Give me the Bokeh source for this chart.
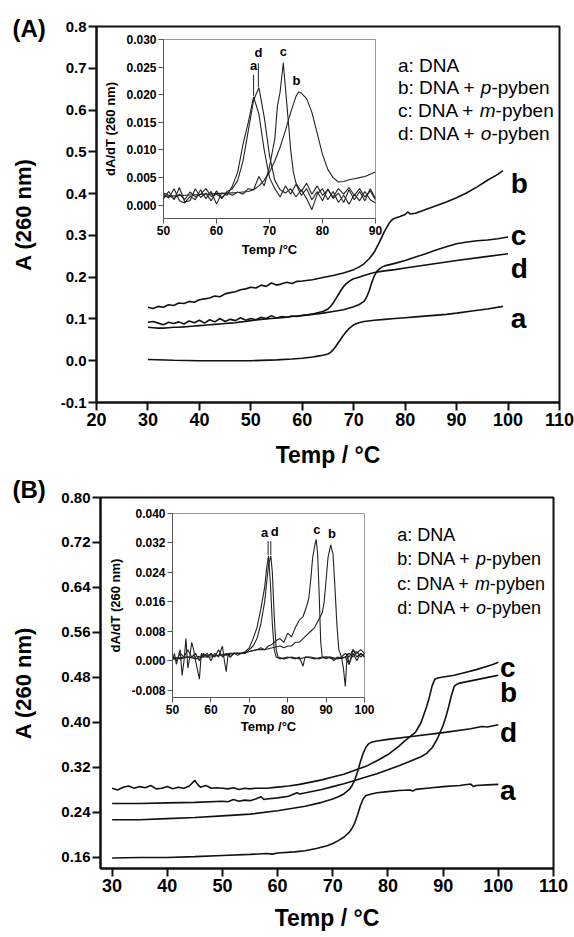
from bokeh.plotting import figure
from bokeh.models import GridBox, FixedTicker, PrintfTickFormatter, Range1d
from bokeh.layouts import column
from bokeh.core.properties import value
from bokeh.embed import file_html
from bokeh.resources import INLINE

FONT = "Liberation Sans"

# ---------------- Panel A : main melting curves ----------------
A_a_T = [30, 35, 40, 45, 50, 55, 58, 60, 62, 63, 64, 65, 65.5, 66, 66.5, 67, 67.5, 68, 68.5, 69, 69.5, 70, 71, 72, 74, 76, 78, 80, 82, 85, 88, 90, 93, 96, 99]
A_a_V = [0.003, 0.001, 0.000, 0.000, 0.000, 0.002, 0.004, 0.006, 0.009, 0.011, 0.013, 0.016, 0.020, 0.026, 0.034, 0.043, 0.052, 0.061, 0.069, 0.076, 0.081, 0.086, 0.091, 0.094, 0.097, 0.099, 0.101, 0.103, 0.105, 0.108, 0.111, 0.114, 0.119, 0.124, 0.130]

A_b_T = [30, 31, 32, 33, 34, 35, 36, 37, 38, 39, 40, 41, 42, 43, 44, 45, 46, 47, 48, 49, 50, 51, 52, 53, 54, 55, 56, 57, 58, 59, 60, 62, 64, 66, 68, 70, 71, 72, 73, 74, 75, 76, 77, 77.5, 78, 79, 80, 80.5, 81, 82, 84, 86, 88, 90, 92, 94, 96, 98, 99]
A_b_V = [0.128, 0.125, 0.130, 0.128, 0.134, 0.132, 0.138, 0.137, 0.142, 0.140, 0.146, 0.148, 0.150, 0.155, 0.153, 0.160, 0.163, 0.165, 0.170, 0.172, 0.176, 0.174, 0.181, 0.178, 0.186, 0.181, 0.184, 0.188, 0.185, 0.190, 0.191, 0.194, 0.199, 0.204, 0.210, 0.218, 0.224, 0.232, 0.244, 0.260, 0.284, 0.310, 0.331, 0.338, 0.341, 0.345, 0.350, 0.356, 0.351, 0.353, 0.362, 0.371, 0.380, 0.390, 0.402, 0.416, 0.432, 0.446, 0.455]

A_c_T = [30, 31, 32, 33, 34, 35, 36, 37, 38, 39, 40, 41, 42, 43, 44, 45, 46, 47, 48, 49, 50, 52, 54, 56, 58, 60, 62, 64, 66, 68, 70, 71, 72, 72.5, 73, 73.5, 74, 74.5, 75, 75.5, 76, 77, 78, 80, 82, 84, 86, 88, 90, 92, 94, 96, 98, 100]
A_c_V = [0.080, 0.079, 0.078, 0.078, 0.079, 0.080, 0.080, 0.081, 0.082, 0.083, 0.084, 0.085, 0.086, 0.087, 0.088, 0.089, 0.090, 0.091, 0.093, 0.094, 0.096, 0.099, 0.101, 0.103, 0.106, 0.108, 0.111, 0.114, 0.118, 0.122, 0.129, 0.134, 0.142, 0.152, 0.167, 0.187, 0.203, 0.214, 0.220, 0.224, 0.227, 0.230, 0.233, 0.240, 0.248, 0.256, 0.265, 0.273, 0.280, 0.284, 0.287, 0.289, 0.292, 0.296]

A_d_T = [30, 31, 32, 33, 34, 35, 36, 37, 38, 39, 40, 41, 42, 43, 44, 45, 46, 47, 48, 49, 50, 51, 52, 53, 54, 55, 56, 57, 58, 59, 60, 61, 62, 63, 64, 65, 65.5, 66, 66.5, 67, 67.5, 68, 68.5, 69, 69.5, 70, 71, 72, 74, 76, 78, 80, 85, 90, 95, 100]
A_d_V = [0.092, 0.094, 0.090, 0.086, 0.092, 0.089, 0.093, 0.088, 0.095, 0.091, 0.097, 0.090, 0.098, 0.093, 0.101, 0.094, 0.099, 0.096, 0.103, 0.097, 0.101, 0.098, 0.104, 0.101, 0.108, 0.102, 0.106, 0.104, 0.107, 0.106, 0.109, 0.110, 0.112, 0.115, 0.118, 0.124, 0.130, 0.138, 0.148, 0.158, 0.168, 0.177, 0.184, 0.189, 0.193, 0.196, 0.200, 0.204, 0.211, 0.215, 0.218, 0.222, 0.231, 0.240, 0.248, 0.256]

# ---------------- Panel A : inset dA/dT ----------------
IA_a_T = [50, 51, 52, 53, 54, 55, 56, 57, 58, 59, 60, 61, 62, 63, 64, 65, 66, 67, 68, 69, 70, 71, 72, 73, 74, 75, 76, 77, 78, 79, 80, 81, 82, 83, 84, 85, 86, 87, 88, 89, 90]
IA_a_V = [0.0020, 0.0013, 0.0030, 0.0008, 0.0004, 0.0016, 0.0010, 0.0028, 0.0012, 0.0025, 0.0002, 0.0022, 0.0018, 0.0035, 0.0060, 0.0110, 0.0150, 0.0196, 0.0165, 0.0100, 0.0050, 0.0030, 0.0015, 0.0035, 0.0020, 0.0038, 0.0018, 0.0030, 0.0010, 0.0025, 0.0008, 0.0030, 0.0012, 0.0022, 0.0005, 0.0028, 0.0010, 0.0025, 0.0008, 0.0030, 0.0012]

IA_d_T = [50, 51, 52, 53, 54, 55, 56, 57, 58, 59, 60, 61, 62, 63, 64, 65, 66, 67, 68, 69, 70, 71, 72, 73, 74, 75, 76, 77, 78, 79, 80, 81, 82, 83, 84, 85, 86, 87, 88, 89, 90]
IA_d_V = [0.0012, 0.0025, 0.0010, 0.0032, 0.0006, 0.0008, 0.0030, 0.0014, 0.0022, 0.0008, 0.0026, 0.0012, 0.0025, 0.0030, 0.0045, 0.0080, 0.0135, 0.0190, 0.0213, 0.0160, 0.0090, 0.0045, 0.0028, 0.0022, 0.0030, 0.0015, 0.0028, 0.0012, -0.0008, 0.0020, 0.0030, 0.0010, 0.0025, 0.0005, 0.0018, 0.0002, 0.0020, 0.0008, 0.0025, 0.0010, 0.0004]

IA_c_T = [50, 51, 52, 53, 54, 55, 56, 57, 58, 59, 60, 61, 62, 63, 64, 65, 66, 67, 68, 69, 70, 71, 71.5, 72, 72.6, 73.3, 74, 74.5, 75, 76, 77, 78, 79, 80, 81, 82, 83, 84, 85, 86, 87, 88, 89, 90]
IA_c_V = [0.0022, 0.0018, 0.0012, 0.0020, 0.0010, 0.0024, 0.0015, 0.0020, 0.0030, 0.0016, 0.0020, 0.0014, 0.0022, 0.0018, 0.0024, 0.0020, 0.0030, 0.0028, 0.0052, 0.0035, 0.0070, 0.0120, 0.0180, 0.0205, 0.0258, 0.0180, 0.0100, 0.0060, 0.0040, 0.0025, 0.0040, 0.0020, 0.0035, 0.0018, 0.0028, 0.0015, 0.0030, 0.0020, 0.0032, 0.0018, 0.0030, 0.0015, 0.0026, 0.0010]

IA_b_T = [50, 52, 54, 56, 58, 60, 62, 64, 66, 67, 68, 69, 70, 71, 72, 73, 74, 75, 75.5, 76, 77, 78, 79, 80, 81, 82, 83, 84, 85, 86, 87, 88, 89, 90]
IA_b_V = [0.0016, 0.0017, 0.0018, 0.0019, 0.0020, 0.0021, 0.0022, 0.0023, 0.0025, 0.0028, 0.0035, 0.0045, 0.0060, 0.0080, 0.0105, 0.0135, 0.0168, 0.0197, 0.0205, 0.0203, 0.0193, 0.0168, 0.0130, 0.0092, 0.0065, 0.0050, 0.0042, 0.0043, 0.0046, 0.0048, 0.0050, 0.0052, 0.0056, 0.0060]

# ---------------- Panel B : main melting curves ----------------
B_a_T = [30, 35, 40, 45, 50, 55, 58, 59, 60, 63, 65, 67, 69, 70, 71, 72, 73, 73.5, 74, 74.5, 75, 75.5, 76, 77, 78, 80, 82, 84, 84.5, 85, 88, 90, 93, 95, 95.5, 96, 98, 100]
B_a_V = [0.159, 0.160, 0.160, 0.1615, 0.1635, 0.1655, 0.167, 0.166, 0.168, 0.170, 0.172, 0.176, 0.181, 0.185, 0.190, 0.196, 0.205, 0.212, 0.222, 0.236, 0.252, 0.264, 0.270, 0.273, 0.275, 0.277, 0.279, 0.280, 0.278, 0.281, 0.284, 0.286, 0.288, 0.2905, 0.286, 0.288, 0.289, 0.290]

B_b_T = [30, 35, 40, 45, 50, 51, 52, 53, 54, 55, 56, 57, 57.5, 58, 60, 62, 63.5, 64, 66, 68, 70, 72, 74, 76, 78, 80, 82, 84, 86, 87, 88, 89, 90, 90.5, 91, 91.5, 92, 92.5, 93, 95, 97, 99, 100]
B_b_V = [0.256, 0.256, 0.257, 0.258, 0.260, 0.259, 0.263, 0.260, 0.262, 0.261, 0.264, 0.268, 0.263, 0.264, 0.266, 0.269, 0.275, 0.273, 0.277, 0.281, 0.286, 0.291, 0.297, 0.303, 0.309, 0.316, 0.323, 0.331, 0.339, 0.345, 0.355, 0.372, 0.395, 0.410, 0.428, 0.448, 0.464, 0.468, 0.470, 0.474, 0.478, 0.482, 0.484]

B_c_T = [30, 31, 32, 33, 34, 35, 36, 37, 38, 39, 40, 41, 42, 43, 44, 45, 45.5, 46, 47, 48, 49, 50, 51, 52, 53, 54, 55, 56, 58, 60, 62, 64, 66, 68, 70, 72, 74, 76, 78, 80, 82, 83, 84, 85, 86, 87, 87.5, 88, 88.5, 89, 90, 92, 94, 96, 98, 99, 100]
B_c_V = [0.283, 0.280, 0.285, 0.287, 0.283, 0.286, 0.284, 0.288, 0.282, 0.283, 0.286, 0.282, 0.285, 0.283, 0.287, 0.297, 0.290, 0.285, 0.288, 0.283, 0.284, 0.283, 0.282, 0.284, 0.281, 0.283, 0.282, 0.283, 0.283, 0.285, 0.287, 0.290, 0.294, 0.298, 0.303, 0.308, 0.315, 0.322, 0.332, 0.343, 0.358, 0.367, 0.375, 0.383, 0.400, 0.428, 0.445, 0.465, 0.477, 0.479, 0.481, 0.484, 0.489, 0.494, 0.500, 0.503, 0.507]

B_d_T = [30, 35, 40, 45, 50, 55, 60, 65, 68, 70, 71, 72, 73, 73.5, 74, 74.5, 75, 75.5, 76, 76.5, 77, 78, 80, 85, 90, 95, 97, 98, 100]
B_d_V = [0.227, 0.227, 0.229, 0.231, 0.234, 0.237, 0.243, 0.251, 0.258, 0.264, 0.268, 0.273, 0.281, 0.288, 0.298, 0.313, 0.330, 0.345, 0.356, 0.362, 0.365, 0.367, 0.370, 0.376, 0.382, 0.389, 0.393, 0.392, 0.396]

# ---------------- Panel B : inset dA/dT ----------------
IB_a_T = [50, 50.5, 51, 51.5, 52, 52.5, 53, 53.5, 54, 54.5, 55, 55.5, 56, 57, 57.5, 58, 59, 60, 61, 62, 63, 63.5, 64, 64.5, 65, 66, 67, 68, 69, 70, 71, 72, 73, 74, 74.5, 75, 75.5, 76, 76.5, 77, 78, 80, 82, 83, 84, 84.5, 86, 88, 90, 92, 94, 94.5, 95, 95.5, 96, 97, 98, 99, 100]
IB_a_V = [0.000, 0.002, -0.001, 0.001, 0.003, -0.004, 0.000, 0.006, -0.002, 0.001, 0.005, 0.003, 0.000, -0.005, 0.002, 0.001, 0.002, 0.000, 0.002, 0.001, 0.004, 0.000, -0.003, 0.002, 0.001, 0.002, 0.0015, 0.002, 0.0025, 0.0035, 0.006, 0.009, 0.014, 0.020, 0.025, 0.0285, 0.021, 0.010, 0.003, 0.001, 0.0005, 0.001, 0.0005, 0.001, -0.0015, 0.001, 0.001, 0.0005, 0.001, 0.0005, 0.001, -0.002, -0.007, 0.002, -0.001, 0.003, 0.001, 0.002, 0.001]

IB_d_T = [50, 51, 52, 53, 54, 55, 56, 57, 58, 59, 60, 61, 62, 63, 64, 65, 66, 67, 68, 69, 70, 71, 72, 73, 74, 74.5, 75, 75.6, 76, 76.5, 77, 77.5, 79, 81, 83, 85, 87, 89, 91, 93, 95, 96, 97, 98, 99, 100]
IB_d_V = [0.001, 0.000, 0.002, 0.001, 0.003, 0.001, 0.002, 0.000, 0.002, 0.001, 0.002, 0.001, 0.003, 0.001, 0.002, 0.001, 0.002, 0.002, 0.002, 0.002, 0.003, 0.004, 0.006, 0.010, 0.016, 0.021, 0.026, 0.0285, 0.024, 0.012, 0.003, 0.001, 0.0005, 0.001, 0.0005, 0.001, 0.0005, 0.001, 0.001, 0.0005, 0.001, -0.001, 0.002, 0.000, 0.002, 0.001]

IB_c_T = [50, 52, 54, 56, 58, 60, 62, 64, 66, 68, 70, 72, 73, 74, 75, 76, 77, 78, 79, 80, 81, 82, 83, 84, 85, 85.5, 86, 86.5, 87, 87.4, 87.8, 88.2, 88.6, 89, 90, 91, 92, 93, 94, 95, 96, 97, 98, 99, 100]
IB_c_V = [0.001, 0.0005, 0.001, 0.0005, 0.001, 0.001, 0.0015, 0.0015, 0.002, 0.002, 0.0025, 0.003, 0.0035, 0.003, 0.004, 0.0045, 0.0055, 0.006, 0.005, 0.0075, 0.0065, 0.009, 0.011, 0.012, 0.015, 0.017, 0.022, 0.028, 0.031, 0.033, 0.029, 0.018, 0.005, 0.001, 0.0005, 0.001, 0.000, 0.001, 0.0005, 0.001, 0.002, 0.001, 0.0025, 0.001, 0.002]

IB_b_T = [50, 53, 56, 59, 62, 65, 68, 70, 72, 74, 76, 78, 79, 80, 81, 82, 83, 84, 85, 86, 87, 88, 89, 89.5, 90, 90.5, 91.2, 91.8, 92.3, 92.8, 93.3, 94, 95, 96, 97, 98, 99, 100]
IB_b_V = [0.0005, 0.001, 0.001, 0.0015, 0.0015, 0.002, 0.002, 0.0025, 0.003, 0.003, 0.0035, 0.004, 0.0035, 0.004, 0.004, 0.005, 0.005, 0.006, 0.007, 0.008, 0.009, 0.011, 0.013, 0.016, 0.022, 0.028, 0.0315, 0.029, 0.020, 0.010, 0.003, 0.001, 0.002, 0.001, 0.003, 0.002, 0.003, 0.002]

# ---------------- ticks / texts ----------------
A_XTICKS = [20, 30, 40, 50, 60, 70, 80, 90, 100, 110]
A_YTICKS = [-0.1, 0.0, 0.1, 0.2, 0.3, 0.4, 0.5, 0.6, 0.7, 0.8]
B_XTICKS = [30, 40, 50, 60, 70, 80, 90, 100, 110]
B_YTICKS = [0.16, 0.24, 0.32, 0.40, 0.48, 0.56, 0.64, 0.72, 0.80]
IA_XTICKS = [50, 60, 70, 80, 90]
IA_YTICKS = [0.000, 0.005, 0.010, 0.015, 0.020, 0.025, 0.030]
IB_XTICKS = [50, 60, 70, 80, 90, 100]
IB_YTICKS = [-0.008, 0.000, 0.008, 0.016, 0.024, 0.032, 0.040]

LEG_PREFIX = ["a: DNA", "b: DNA + ", "c: DNA + ", "d: DNA + "]
LEG_ITALIC = ["", "p", "m", "o"]
LEG_SUFFIX = ["", "-pyben", "-pyben", "-pyben"]
CURVE_LETTERS = ["a", "b", "c", "d"]
PANEL_TAGS = ["(A)", "(B)"]

XLABEL = "Temp / \u00b0C"
YLABEL = "A (260 nm)"
IXLABEL = "Temp /\u00b0C"
IYLABEL = "dA/dT (260 nm)"

# Arial / Liberation Sans advance widths (1/1000 em)
ADV = {'a': 556, 'b': 556, 'c': 500, 'd': 556, ':': 278, ' ': 278, 'D': 722, 'N': 722, 'A': 667,
       '+': 584, 'p': 556, '-': 333, 'y': 500, 'e': 556, 'n': 556, 'm': 833, 'o': 556}


def tw(s, fs):
    return sum(ADV[c] for c in s) / 1000.0 * fs


def no_align(p):
    try:
        p.frame_align = False
    except Exception:
        pass


def style(p, xt, yt, xfmt, yfmt, xfs, yfs, xlfs, ylfs, col, tick_out, lw, xstand, ystand):
    p.xgrid.visible = False
    p.ygrid.visible = False
    p.xaxis.ticker = FixedTicker(ticks=xt)
    p.yaxis.ticker = FixedTicker(ticks=yt)
    p.xaxis.formatter = PrintfTickFormatter(format=xfmt)
    p.yaxis.formatter = PrintfTickFormatter(format=yfmt)
    for ax, fs, lfs in ((p.xaxis, xfs, xlfs), (p.yaxis, yfs, ylfs)):
        ax.minor_tick_line_color = None
        ax.major_tick_in = 0
        ax.major_tick_out = tick_out
        ax.major_tick_line_width = lw
        ax.major_tick_line_color = col
        ax.axis_line_width = lw
        ax.axis_line_color = col
        ax.major_label_text_font = FONT
        ax.major_label_text_font_style = "bold"
        ax.major_label_text_font_size = fs
        ax.major_label_text_color = "black"
        ax.major_label_standoff = 2
        ax.axis_label_text_font = FONT
        ax.axis_label_text_font_style = "bold"
        ax.axis_label_text_font_size = lfs
        ax.axis_label_text_color = "black"
    p.xaxis.axis_label_standoff = xstand
    p.yaxis.axis_label_standoff = ystand


def main_fig(xr, yr, h, ml, mr, mt, mb):
    p = figure(width=574, height=h, x_range=Range1d(*xr), y_range=Range1d(*yr),
               output_backend="svg", toolbar_location=None,
               min_border_left=ml, min_border_right=mr, min_border_top=mt, min_border_bottom=mb)
    p.outline_line_color = "#111111"
    p.outline_line_width = 2
    p.background_fill_color = "white"
    no_align(p)
    return p


def inset_fig(xr, yr, w, h, ml, mr, mt, mb):
    p = figure(width=w, height=h, x_range=Range1d(*xr), y_range=Range1d(*yr),
               output_backend="svg", toolbar_location=None,
               min_border_left=ml, min_border_right=mr, min_border_top=mt, min_border_bottom=mb)
    p.outline_line_color = "#9a9a9a"
    p.outline_line_width = 1
    p.background_fill_alpha = 0
    p.border_fill_alpha = 0
    no_align(p)
    return p


def tag_fig(w, h, tag, tx, ty):
    # transparent overlay as large as its panel; its ranges are its own pixels (y downwards)
    p = figure(width=w, height=h, x_range=Range1d(0, w), y_range=Range1d(h, 0),
               output_backend="svg", toolbar_location=None,
               min_border_left=0, min_border_right=0, min_border_top=0, min_border_bottom=0)
    p.axis.visible = False
    p.grid.visible = False
    p.outline_line_color = None
    p.background_fill_alpha = 0
    p.border_fill_alpha = 0
    no_align(p)
    p.text(x=[tx], y=[ty], text=[tag], text_font=value(FONT), text_font_style="bold",
           text_font_size=value("24px"), text_baseline="middle", text_align="left", text_color="black")
    return p


def add_legend(p, x0, ys, fs):
    px = [x0] * 4
    p.text(x=px, y=ys, text=[s.rstrip() for s in LEG_PREFIX], text_font=value(FONT),
           text_font_size=value(fs + "px"), text_baseline="middle", text_align="left", text_color="black")
    f = float(fs)
    it_off = [tw(s, f) for s in LEG_PREFIX]
    p.text(x=px, y=ys, text=LEG_ITALIC, x_offset=it_off, text_font=value(FONT), text_font_style="italic",
           text_font_size=value(fs + "px"), text_baseline="middle", text_align="left", text_color="black")
    suf_off = [tw(s, f) + tw(i, f) for s, i in zip(LEG_PREFIX, LEG_ITALIC)]
    p.text(x=px, y=ys, text=LEG_SUFFIX, x_offset=suf_off, text_font=value(FONT),
           text_font_size=value(fs + "px"), text_baseline="middle", text_align="left", text_color="black")


# ======================= Panel A =======================
pA = main_fig((20, 110), (-0.1, 0.8), 474, 96, 15, 26, 72)
style(pA, A_XTICKS, A_YTICKS, "%d", "%.1f", "18px", "15px", "23px", "22px", "#111111", 8, 2, 13, 22)
pA.xaxis.axis_label = XLABEL
pA.yaxis.axis_label = YLABEL
for T, V in ((A_a_T, A_a_V), (A_b_T, A_b_V), (A_c_T, A_c_V), (A_d_T, A_d_V)):
    pA.line(T, V, line_color="#111111", line_width=1.6)
pA.text(x=[100.5] * 4, y=[0.102, 0.4234, 0.2987, 0.2219], text=CURVE_LETTERS, text_font=value(FONT),
        text_font_style="bold", text_font_size=value("28px"), text_baseline="alphabetic", text_align="left")
add_legend(pA, 78.6, [0.707, 0.653, 0.600, 0.545], "19")

iA = inset_fig((50, 90), (-0.0024, 0.030), 290, 240, 59, 15, 9, 52)
style(iA, IA_XTICKS, IA_YTICKS, "%d", "%.3f", "12px", "12px", "13px", "13px", "#555555", 5, 1, 4, 5)
iA.xaxis.axis_label = IXLABEL
iA.yaxis.axis_label = IYLABEL
for T, V in ((IA_a_T, IA_a_V), (IA_b_T, IA_b_V), (IA_c_T, IA_c_V), (IA_d_T, IA_d_V)):
    iA.line(T, V, line_color="#222222", line_width=1.1)
iA.segment(x0=[67.0, 67.9], y0=[0.0236, 0.0257], x1=[67.0, 67.9], y1=[0.0198, 0.0214], line_color="#222222", line_width=1)
iA.text(x=[67.0, 67.9, 72.6, 75.1], y=[0.0240, 0.0262, 0.0265, 0.0213], text=["a", "d", "c", "b"],
        text_font=value(FONT), text_font_style="bold", text_font_size=value("13px"),
        text_baseline="bottom", text_align="center")

tA = tag_fig(574, 474, PANEL_TAGS[0], 12, 28)

gA = GridBox(children=[(pA, 0, 0, 3, 3), (tA, 0, 0, 3, 3), (iA, 1, 1)], rows=["30px", "240px", "204px"],
             cols=["100px", "290px", "184px"], width=574, height=474)

# ======================= Panel B =======================
pB = main_fig((27.9, 110), (0.1404, 0.80), 463, 100, 21, 23, 69)
style(pB, B_XTICKS, B_YTICKS, "%d", "%.2f", "18px", "15px", "23px", "22px", "#111111", 8, 2, 10, 22)
pB.xaxis.axis_label = XLABEL
pB.yaxis.axis_label = YLABEL
for T, V in ((B_a_T, B_a_V), (B_b_T, B_b_V), (B_c_T, B_c_V), (B_d_T, B_d_V)):
    pB.line(T, V, line_color="#111111", line_width=1.6)
pB.text(x=[100.3] * 4, y=[0.2786, 0.4528, 0.4972, 0.3818], text=CURVE_LETTERS, text_font=value(FONT),
        text_font_style="bold", text_font_size=value("28px"), text_baseline="alphabetic", text_align="left")
add_legend(pB, 81.7, [0.7337, 0.691, 0.6465, 0.6038], "18")

iB = inset_fig((50, 100), (-0.010, 0.040), 280, 240, 60, 21, 10, 46)
style(iB, IB_XTICKS, IB_YTICKS, "%d", "%.3f", "12px", "12px", "13px", "13px", "#555555", 5, 1, 2, 5)
iB.xaxis.axis_label = IXLABEL
iB.yaxis.axis_label = IYLABEL
for T, V in ((IB_a_T, IB_a_V), (IB_b_T, IB_b_V), (IB_c_T, IB_c_V), (IB_d_T, IB_d_V)):
    iB.line(T, V, line_color="#222222", line_width=1.1)
iB.segment(x0=[74.9, 75.6], y0=[0.0325, 0.0325], x1=[74.9, 75.6], y1=[0.0287, 0.0287], line_color="#222222", line_width=1)
iB.text(x=[74.0, 76.6, 87.6, 91.5], y=[0.0328, 0.0330, 0.0337, 0.0325], text=["a", "d", "c", "b"],
        text_font=value(FONT), text_font_style="bold", text_font_size=value("13px"),
        text_baseline="bottom", text_align="center")

tB = tag_fig(574, 463, PANEL_TAGS[1], 12, 15)

gB = GridBox(children=[(pB, 0, 0, 3, 3), (tB, 0, 0, 3, 3), (iB, 1, 1)], rows=["29px", "240px", "194px"],
             cols=["105px", "280px", "189px"], width=574, height=463)

layout = column(gA, gB, spacing=0)
open("out.html", "w").write(file_html(layout, INLINE))
